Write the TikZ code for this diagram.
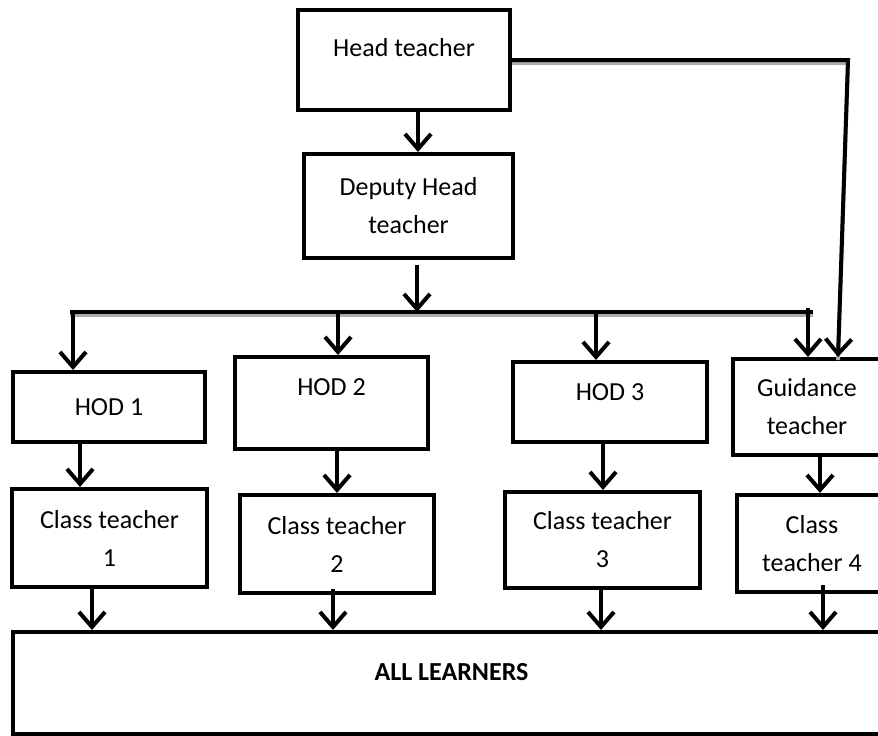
\documentclass[tikz,border=0pt]{standalone}
\usepackage{fontspec}
\setmainfont{Carlito}
\usetikzlibrary{arrows.meta}
\tikzset{
  box/.style={draw, line width=4pt, rectangle, inner sep=0pt, align=center,
    font=\fontsize{26}{38}\selectfont},
  lift/.style={text depth=#1},
  arr/.style={line width=4pt, -{Straight Barb[length=15pt,width=26pt]}},
  bar/.style={line width=4pt,
    preaction={draw=gray!65, line width=4pt, transform canvas={yshift=-3pt}}},
}
\begin{document}
\begin{tikzpicture}[x=1pt,y=-1pt]
  \path[use as bounding box, clip] (0,0) rectangle (878,736);

  % Drawing box Head teacher
  \node[box, minimum width=212, minimum height=100, lift=26pt] (head) at (404,60) {Head teacher};%

  % Drawing box Deputy Head teacher
  \node[box, minimum width=209, minimum height=104] (deputy) at (408.5,206) {Deputy Head\\teacher};%

  % Drawing the HOD row
  \node[box, minimum width=192, minimum height=70] (hod1) at (109,407) {HOD 1};%
  \node[box, minimum width=193, minimum height=92, lift=32pt] (hod2) at (331.5,403) {HOD 2};%
  \node[box, minimum width=194, minimum height=80, lift=20pt] (hod3) at (610,402) {HOD 3};%
  \node[box, minimum width=148, minimum height=96] (guide) at (807,407) {Guidance\\teacher};%

  % Drawing the class teacher row
  \node[box, minimum width=195, minimum height=98] (ct1) at (109.5,538) {Class teacher\\1};%
  \node[box, minimum width=194, minimum height=98] (ct2) at (337,544) {Class teacher\\2};%
  \node[box, minimum width=195, minimum height=96] (ct3) at (602.5,540) {Class teacher\\3};%
  \node[box, minimum width=150, minimum height=97] (ct4) at (812,543.5) {Class\\teacher 4};%

  % Drawing box ALL LEARNERS
  \node[box, minimum width=877, minimum height=102, lift=22pt,
        font=\fontsize{26}{32}\selectfont\bfseries] (learn) at (451.5,683) {ALL LEARNERS};%

  % Drawing the bus below the deputy
  \coordinate (busl) at (70,312);
  \coordinate (busr) at (813,312);
  \draw[bar] (busl) -- (busr);%

  % Head teacher down to deputy and round to guidance
  \draw[arr] (418,0 |- head.south) -- (418,0 |- deputy.north);%
  \draw[arr, preaction={draw=gray!65, line width=4pt, transform canvas={yshift=-3pt}, -}]
    (head.east) -- (848,60) -- (838,0 |- guide.north);%

  % Deputy down to the bus
  \draw[arr] ([yshift=-5pt]417,0 |- deputy.south) -- (417,0 |- busl);%

  % Bus down to the HOD row
  \draw[arr] (73,0 |- busl) -- (73,0 |- hod1.north);%
  \draw[arr] (338,0 |- busl) -- (338,0 |- hod2.north);%
  \draw[arr] (596,0 |- busl) -- (596,0 |- hod3.north);%
  \draw[arr] (808,308) -- (808,0 |- guide.north);%

  % HOD row down to the class teachers
  \draw[arr] (80,0 |- hod1.south) -- (80,0 |- ct1.north);%
  \draw[arr] (337,0 |- hod2.south) -- (337,0 |- ct2.north);%
  \draw[arr] (603,0 |- hod3.south) -- (603,0 |- ct3.north);%
  \draw[arr] (820,0 |- guide.south) -- (820,0 |- ct4.north);%

  % Class teachers down to all learners
  \draw[arr] (92,0 |- ct1.south) -- (92,0 |- learn.north);%
  \draw[arr] ([yshift=6pt]333,0 |- ct2.south) -- (333,0 |- learn.north);%
  \draw[arr] (601,0 |- ct3.south) -- (601,0 |- learn.north);%
  \draw[arr] ([yshift=9pt]823,0 |- ct4.south) -- (823,0 |- learn.north);%
\end{tikzpicture}
\end{document}
